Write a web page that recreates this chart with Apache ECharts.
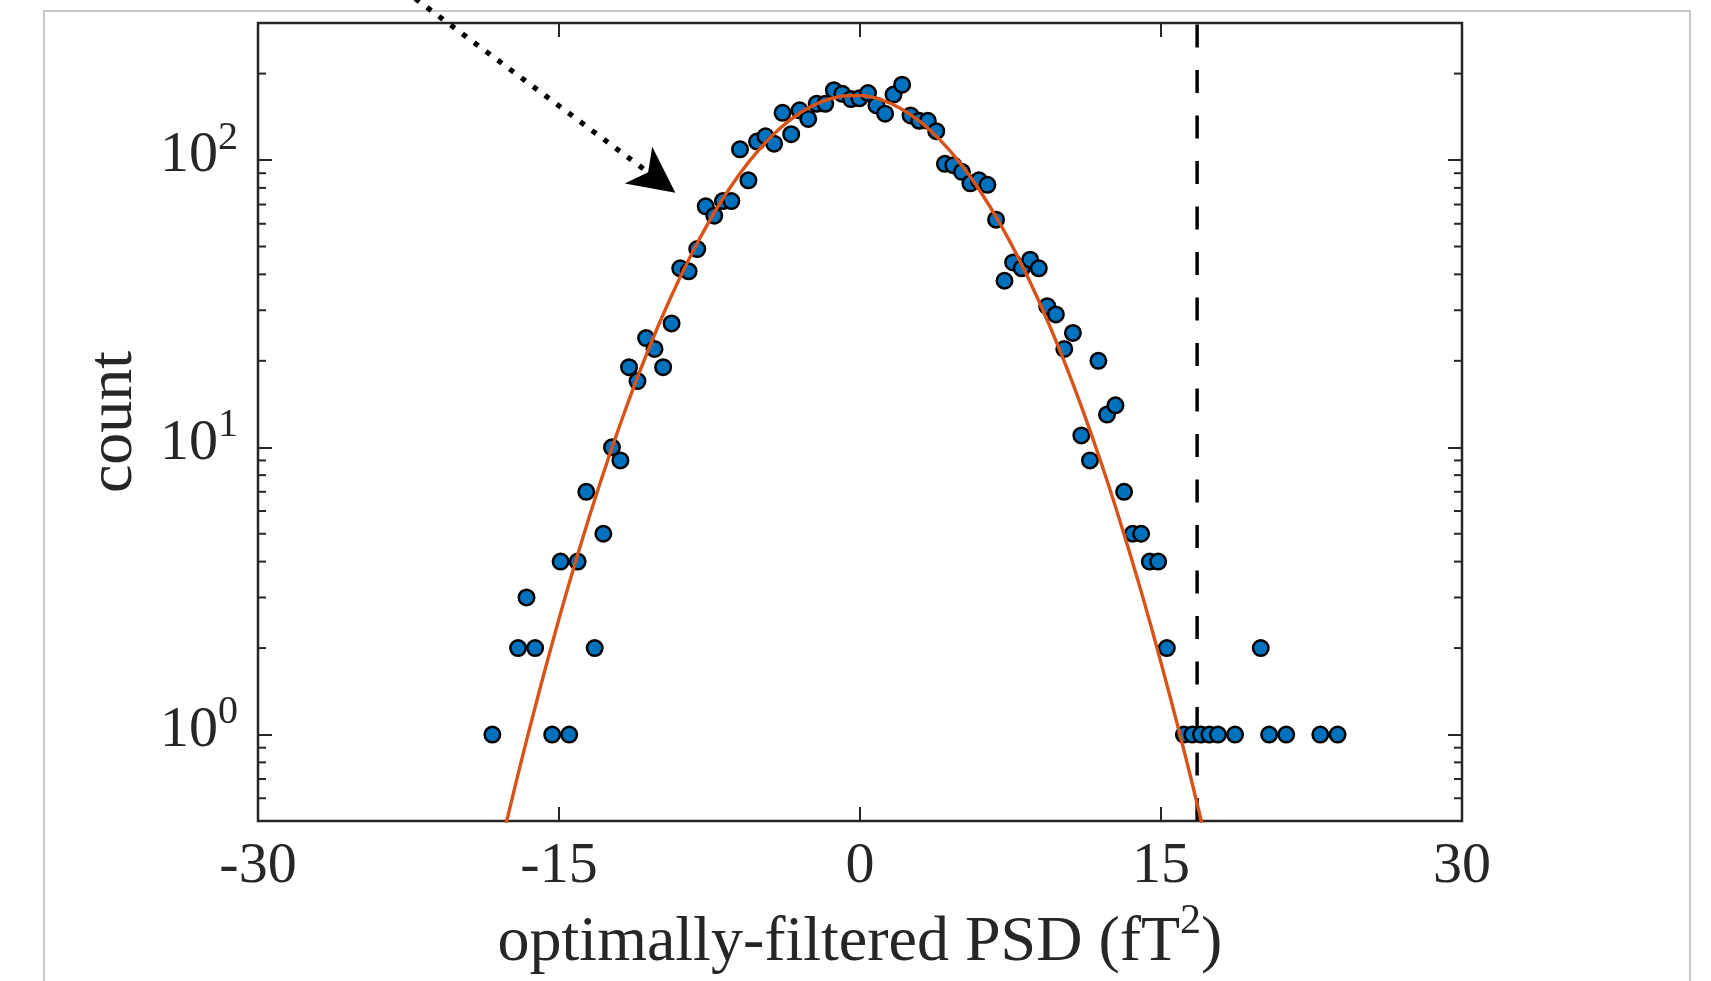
<!DOCTYPE html>
<html>
<head>
<meta charset="utf-8">
<title>Optimally-filtered PSD histogram</title>
<script src="https://cdn.jsdelivr.net/npm/echarts@6/dist/echarts.min.js"></script>
<style>
  html, body { margin: 0; padding: 0; background: #ffffff; }
  #chart { width: 1711px; height: 981px; }
</style>
</head>
<body>
<div id="chart"></div>
<script>
// Histogram bins: centre of each non-empty bin (fT^2) and its count
const binCenters = [-18.32, -17.04, -16.62, -16.19, -15.34, -14.92, -14.49, -14.07, -13.64,
  -13.22, -12.79, -12.36, -11.94, -11.51, -11.09, -10.66, -10.24, -9.81, -9.39,
  -8.96, -8.54, -8.11, -7.69, -7.26, -6.83, -6.41, -5.98, -5.56, -5.13,
  -4.71, -4.28, -3.86, -3.43, -3.01, -2.58, -2.16, -1.73, -1.30, -0.88,
  -0.45, -0.03, 0.40, 0.82, 1.25, 1.67, 2.10, 2.52, 2.95, 3.38,
  3.80, 4.23, 4.65, 5.08, 5.50, 5.93, 6.35, 6.78, 7.20, 7.63,
  8.06, 8.48, 8.91, 9.33, 9.76, 10.18, 10.61, 11.03, 11.46, 11.88,
  12.31, 12.73, 13.16, 13.59, 14.01, 14.44, 14.86, 15.29, 16.14, 16.56,
  16.99, 17.41, 17.84, 18.69, 19.97, 20.39, 21.24, 22.94, 23.80];
const counts = [1, 2, 3, 2, 1, 4, 1, 4, 7,
  2, 5, 10, 9, 19, 17, 24, 22, 19, 27,
  42, 41, 49, 69, 64, 72, 72, 109, 85, 116,
  121, 114, 146, 123, 149, 139, 157, 157, 175, 170,
  163, 164, 171, 155, 145, 169, 183, 143, 137, 137,
  126, 97, 96, 91, 83, 85, 82, 62, 38, 44,
  42, 45, 42, 31, 29, 22, 25, 11, 9, 20,
  13, 14, 7, 5, 5, 4, 4, 2, 1, 1,
  1, 1, 1, 1, 2, 1, 1, 1, 1];

// Gaussian fit curve, sampled once per unit of PSD
const fitX = [-18, -17, -16, -15, -14, -13, -12, -11, -10, -9, -8, -7, -6, -5, -4, -3, -2, -1,
  0, 1, 2, 3, 4, 5, 6, 7, 8, 9, 10, 11, 12, 13, 14, 15, 16, 17, 18];
const fitY = [0.384, 0.747, 1.40, 2.53, 4.39, 7.33, 11.77, 18.19, 27.03, 38.64, 53.1, 70.3, 89.4,
  109.4, 128.8, 145.8, 158.8, 166.4, 167.7, 162.6, 151.6, 136.0, 117.3, 97.4, 77.7, 59.7,
  44.1, 31.3, 21.4, 14.08, 8.90, 5.41, 3.17, 1.78, 0.966, 0.503, 0.252];

// Detection threshold
const thresholdX = 16.8;

// Axis ranges and ticks
const xMin = -30, xMax = 30, xStep = 15;
const yMin = 0.5, yMax = 300;
const yMinorTicks = [0.6, 0.7, 0.8, 0.9, 2, 3, 4, 5, 6, 7, 8, 9,
  20, 30, 40, 50, 60, 70, 80, 90, 200];

// Point the annotation arrow ends at (PSD, count)
const arrowTip = [-9.2, 77];

const AXIS_COLOR = '#262626';
const FONT = "'Liberation Serif', 'Times New Roman', serif";
const MAJOR_LEN = 14;
const MINOR_LEN = 8;

const chart = echarts.init(document.getElementById('chart'), null, { renderer: 'canvas' });

// Decade labels written as 10 with a raised exponent
function decadeLabel(v) {
  const e = Math.round(Math.log10(v));
  if (Math.abs(v - Math.pow(10, e)) > 1e-9 * Math.max(1, v)) return '';
  return '{b|10}{s|' + e + '}';
}

const tickStyle = { color: AXIS_COLOR, width: 2 };
const hiddenLine = { show: false, onZero: false };

const option = {
  backgroundColor: '#ffffff',
  animation: false,
  grid: {
    left: 258, top: 23, width: 1204, height: 798,
    show: true, borderColor: AXIS_COLOR, borderWidth: 2.5, backgroundColor: 'transparent'
  },
  xAxis: [
    {
      type: 'value', min: xMin, max: xMax, interval: xStep, position: 'bottom',
      axisLine: hiddenLine,
      axisTick: { show: true, inside: true, length: MAJOR_LEN, lineStyle: tickStyle },
      axisLabel: { margin: 17, color: AXIS_COLOR, fontSize: 58, fontFamily: FONT, lineHeight: 58 },
      splitLine: { show: false },
      name: '{t|optimally-filtered PSD (fT}{s|2}{t|)}',
      nameLocation: 'middle',
      nameGap: 77,
      nameTextStyle: {
        rich: {
          t: { fontSize: 64, fontFamily: FONT, color: AXIS_COLOR, lineHeight: 84 },
          s: { fontSize: 42, fontFamily: FONT, color: AXIS_COLOR, lineHeight: 44, verticalAlign: 'top' }
        }
      }
    },
    {
      type: 'value', min: xMin, max: xMax, interval: xStep, position: 'top',
      axisLine: hiddenLine,
      axisTick: { show: true, inside: true, length: MAJOR_LEN, lineStyle: tickStyle },
      axisLabel: { show: false },
      splitLine: { show: false }
    }
  ],
  yAxis: [
    {
      type: 'log', logBase: 10, min: yMin, max: yMax, position: 'left',
      axisLine: hiddenLine,
      axisTick: { show: true, inside: true, length: MAJOR_LEN, lineStyle: tickStyle },
      minorTick: { show: false },
      splitLine: { show: false },
      axisLabel: {
        formatter: decadeLabel,
        margin: 20,
        padding: [0, 0, 8, 0],
        rich: {
          b: { fontSize: 58, fontFamily: FONT, color: AXIS_COLOR, lineHeight: 76 },
          s: { fontSize: 40, fontFamily: FONT, color: AXIS_COLOR, lineHeight: 48, verticalAlign: 'top' }
        }
      },
      name: 'count',
      nameLocation: 'middle',
      nameRotate: 90,
      nameGap: 112,
      nameTextStyle: { fontSize: 64, fontFamily: FONT, color: AXIS_COLOR }
    },
    {
      type: 'log', logBase: 10, min: yMin, max: yMax, position: 'right',
      axisLine: hiddenLine,
      axisTick: { show: true, inside: true, length: MAJOR_LEN, lineStyle: tickStyle },
      minorTick: { show: false },
      splitLine: { show: false },
      axisLabel: { show: false }
    }
  ],
  series: [
    {
      // minor log ticks on both vertical sides of the box
      type: 'custom',
      silent: true,
      clip: false,
      z: 5,
      data: yMinorTicks.map(v => [0, v]),
      renderItem: function (params, api) {
        const cs = params.coordSys;
        const y = api.coord([0, api.value(1)])[1];
        const st = { stroke: AXIS_COLOR, lineWidth: 2 };
        return {
          type: 'group',
          children: [
            { type: 'line', shape: { x1: cs.x, y1: y, x2: cs.x + MINOR_LEN, y2: y }, style: st },
            { type: 'line', shape: { x1: cs.x + cs.width - MINOR_LEN, y1: y, x2: cs.x + cs.width, y2: y }, style: st }
          ]
        };
      }
    },
    {
      name: 'threshold',
      type: 'line',
      silent: true,
      symbol: 'none',
      z: 1,
      data: [[thresholdX, yMin], [thresholdX, yMax]],
      lineStyle: { color: '#000000', width: 3.5, type: [23, 22.5] }
    },
    {
      name: 'counts',
      type: 'scatter',
      z: 2,
      symbol: 'circle',
      symbolSize: 15.5,
      data: binCenters.map((x, i) => [x, counts[i]]),
      itemStyle: { color: '#0072BD', borderColor: '#000000', borderWidth: 2.5, opacity: 1 }
    },
    {
      name: 'fit',
      type: 'line',
      z: 3,
      symbol: 'none',
      smooth: 0.3,
      clip: true,
      data: fitX.map((x, i) => [x, fitY[i]]),
      lineStyle: { color: '#D95319', width: 3.4 }
    }
  ]
};

chart.setOption(option);

// Dotted annotation arrow pointing at the fitted curve
const tip = chart.convertToPixel({ xAxisIndex: 0, yAxisIndex: 0 }, arrowTip);
const ux = 0.8016, uy = 0.5978;
const P = (a, b) => [tip[0] + a * ux - b * uy, tip[1] + a * uy + b * ux];

chart.setOption({
  graphic: [
    {
      type: 'polyline',
      z: 0,
      silent: true,
      shape: { points: [[44, 981], [44, 11], [1690, 11], [1690, 981]] },
      style: { stroke: '#c8c8c8', lineWidth: 2, fill: null }
    },
    {
      type: 'polyline',
      z: 100,
      silent: true,
      shape: { points: [P(-40, 0), P(-560, 0)] },
      style: { stroke: '#000000', lineWidth: 5.2, lineDash: [5.2, 9.5], lineCap: 'butt', fill: null }
    },
    {
      type: 'polygon',
      z: 100,
      silent: true,
      shape: { points: [P(0, 0), P(-46, -23), P(-34, 0), P(-46, 23)] },
      style: { fill: '#000000', stroke: null }
    }
  ]
});
</script>
</body>
</html>
